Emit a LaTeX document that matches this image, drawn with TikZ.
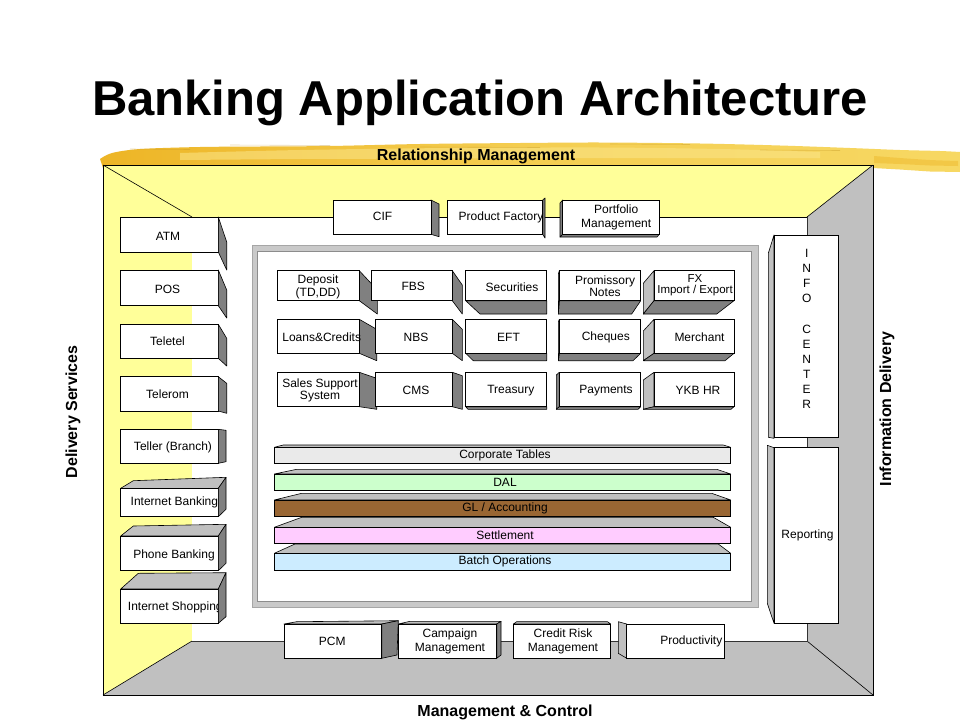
\documentclass[tikz,border=0pt]{standalone}
\usepackage{fontspec}
\setmainfont{Liberation Sans}
\definecolor{yellowp}{HTML}{FFFF99}
\definecolor{grayp}{HTML}{C0C0C0}
\definecolor{darkf}{HTML}{808080}
\definecolor{brushA}{HTML}{EDB526}
\definecolor{brushB}{HTML}{F7D863}
\definecolor{brushC}{HTML}{FBE68A}
\definecolor{corpc}{HTML}{EAEAEA}
\definecolor{dalc}{HTML}{CCFFCC}
\definecolor{glc}{HTML}{996633}
\definecolor{setc}{HTML}{FFCCFF}
\definecolor{batchc}{HTML}{CCECFF}
\newcommand\frontrect[4]{\draw[frontbox] (#1,#2) rectangle (#3,#4);}
\begin{document}
\begin{tikzpicture}[x=1pt,y=-1pt,
  frontbox/.style={draw=black, fill=white, line width=0.8pt},
  dface/.style={draw=black, fill=darkf, line width=0.6pt, line join=round},
  lface/.style={draw=black, fill=grayp, line width=0.6pt, line join=round},
  lbl/.style={font=\fontsize{12}{13.5}\selectfont, inner sep=0pt, align=center},
  hdr/.style={font=\fontsize{16}{18}\selectfont\bfseries, inner sep=0pt},
  barfront/.style={draw=black, line width=0.8pt}]
\useasboundingbox (0,0) rectangle (960,720);
\fill[white] (0,0) rectangle (960,720);

% title
\node[font=\fontsize{49}{55}\selectfont\bfseries, inner sep=0pt, anchor=base] (title) at (480,115) {Banking Application Architecture};

% brush stroke
\shade[left color=brushA, right color=brushB, middle color=brushB!70!brushA]
  plot[smooth] coordinates {(100,159) (112,153) (140,149) (200,147) (260,146.5)
   (330,146) (420,144) (520,143) (600,142.5) (700,143.5) (780,145.5) (850,148)
   (900,150) (940,151) (960,152)}
  -- (960,172) -- (930,171.5) -- (900,169.5) -- (873,168) -- (103,168) -- cycle;
\fill[brushC, opacity=0.55] plot[smooth] coordinates {(180,153) (300,150) (450,148) (600,147.5) (720,149) (820,152)}
  -- (820,158) -- (600,158) -- (300,159) -- (180,160) -- cycle;
\fill[brushA, opacity=0.45] plot[smooth] coordinates {(874,156) (900,158) (930,160) (958,161)}
  -- (958,166) -- (930,165.5) -- (900,164) -- (874,163) -- cycle;
\foreach \yy/\xa/\xb in {145/230/330, 147/420/540, 144/610/690, 150/760/840, 149/130/190}
  \draw[brushA!80!black, opacity=0.35, line width=0.6pt] (\xa,\yy) -- (\xb,\yy+0.5);

% frame
\fill[yellowp] (103,165) -- (873,165) -- (807,217) -- (192,217) -- cycle;
\fill[yellowp] (103,165) -- (192,217) -- (192,641) -- (103,695) -- cycle;
\fill[grayp] (873,165) -- (873,695) -- (807,641) -- (807,217) -- cycle;
\fill[grayp] (103,695) -- (192,641) -- (807,641) -- (873,695) -- cycle;
\fill[white] (192,217) rectangle (807,641);
\draw[line width=0.6pt] (103,165) -- (192,217) (873,165) -- (807,217)
  (103,695) -- (192,641) (873,695) -- (807,641);
\draw[line width=0.8pt] (192,217) -- (807,217);
\draw[line width=0.8pt, gray!40!black] (807,217) -- (807,641) -- (192,641);
\draw[line width=1pt] (103,165) rectangle (873,695);

% headers
\node[hdr, anchor=base] (rel) at (476,160.5) {Relationship Management};
\node[hdr, anchor=base] (mgc) at (505,716.5) {Management \& Control};
\node[hdr, rotate=90] (dels) at (73,412) {Delivery Services};
\node[hdr, rotate=90] (infd) at (887,409) {Information Delivery};

% inner panel
\fill[grayp!85] (252,245) rectangle (758,607);
\fill[white] (257,251) rectangle (751,601);
\draw[gray!70, line width=0.5pt] (252,245) rectangle (758,607);
\draw[gray!90, line width=0.5pt] (257,251) rectangle (751,601);

% left column
\frontrect{120.7}{217}{218.3}{252}
\node[lbl] (atm) at (168,236) {ATM};
\draw[dface] (218.3,217) -- (226.7,242) -- (226.7,270) -- (218.3,252) -- cycle;
\frontrect{120.7}{270}{218.3}{305.7}
\node[lbl] (pos) at (167.5,289) {POS};
\draw[dface] (218.3,270) -- (226.7,290) -- (226.7,318) -- (218.3,305.7) -- cycle;
\frontrect{120.7}{324.3}{218.3}{358.3}
\node[lbl] (teletel) at (167.5,341.5) {Teletel};
\draw[dface] (218.3,324.3) -- (226.7,338.3) -- (226.7,366) -- (218.3,358.3) -- cycle;
\frontrect{120.7}{376.7}{218.3}{411}
\node[lbl] (telerom) at (167.5,394) {Telerom};
\draw[dface] (218.3,376.7) -- (226.7,383.3) -- (226.7,413.3) -- (218.3,411) -- cycle;
\frontrect{120.7}{429.3}{218.3}{463.3}
\node[lbl] (teller) at (173,447.5) {Teller (Branch)};
\draw[dface] (218.3,429.3) -- (226,430.3) -- (226,461.7) -- (218.3,463.3) -- cycle;
\draw[lface] (120.7,488.3) -- (133.3,480.7) -- (226,477.3) -- (218.3,488.3) -- cycle;
\frontrect{120.7}{488.3}{218.3}{516.7}
\node[lbl] (ibank) at (174.4,502) {Internet Banking};
\draw[dface] (218.3,488.3) -- (226,477.3) -- (226,509.3) -- (218.3,516.7) -- cycle;
\draw[lface] (120.7,536) -- (133.3,526) -- (226,524.3) -- (218.3,536) -- cycle;
\frontrect{120.7}{536}{218.3}{570.7}
\node[lbl] (pbank) at (174,555) {Phone Banking};
\draw[dface] (218.3,536) -- (226,524.3) -- (226,563.3) -- (218.3,570.7) -- cycle;
\draw[lface] (120.7,589) -- (138.3,573.3) -- (226,572.7) -- (218.3,589) -- cycle;
\frontrect{120.7}{589}{218.3}{623.3}
\node[lbl] (ishop) at (175.3,607.5) {Internet Shopping};
\draw[dface] (218.3,589) -- (226,572.7) -- (226,616.7) -- (218.3,623.3) -- cycle;

% top row
\draw[dface] (431,200) -- (439,204) -- (439,236.7) -- (431,234.3) -- cycle;
\frontrect{333.3}{200}{431}{234.3}
\node[lbl] (cif) at (382.5,216.5) {CIF};
\draw[dface] (542.7,200) -- (545,198) -- (545,238) -- (542.7,234.3) -- cycle;
\frontrect{447.7}{200}{542.7}{234.3}
\node[lbl] (pfac) at (501,217) {Product Factory};
\draw[dface] (562.7,200) -- (560,203) -- (560,237) -- (562.7,234.3) -- cycle;
\draw[dface] (560,237) -- (562.7,234.3) -- (659.3,234.3) -- (657,237) -- cycle;
\frontrect{562.7}{200}{659.3}{234.3}
\node[lbl] (port) at (616.2,217.5) {Portfolio\\Management};

% grid row 1
\draw[dface] (359.3,270.7) -- (377.3,290) -- (377.3,314) -- (359.3,300.7) -- cycle;
\frontrect{277.3}{270.7}{359.3}{300.7}
\node[lbl, font=\fontsize{12}{13.3}\selectfont] (dep) at (318,287) {Deposit\\(TD,DD)};
\draw[dface] (452.3,270.7) -- (462.3,285) -- (462.3,314) -- (452.3,300.7) -- cycle;
\frontrect{371}{270.7}{452.3}{300.7}
\node[lbl] (fbs) at (413.3,286.5) {FBS};
\draw[dface] (465.7,300.7) -- (480,314) -- (546.7,314) -- (546.7,300.7) -- cycle;
\frontrect{465.7}{270.7}{546.7}{300.7}
\node[lbl] (sec) at (512,287.5) {Securities};
\draw[dface] (559.3,300.7) -- (558.3,314) -- (631.7,314) -- (640.7,300.7) -- cycle;
\draw[dface] (559.3,270.7) -- (558.3,274) -- (558.3,314) -- (559.3,300.7) -- cycle;
\frontrect{559.3}{270.7}{640.7}{300.7}
\node[lbl, font=\fontsize{12}{11.7}\selectfont] (prom) at (605,286.5) {Promissory\\Notes};
\draw[lface] (654,270.7) -- (643.3,283.3) -- (643.3,314) -- (654,300.7) -- cycle;
\draw[dface] (654,300.7) -- (643.3,314) -- (716.7,314) -- (734,300.7) -- cycle;
\frontrect{654}{270.7}{734}{300.7}
\node[lbl, font=\fontsize{11.5}{11.2}\selectfont] (fx) at (695,285) {FX\\Import / Export};

% grid row 2
\draw[dface] (359.3,319.3) -- (376.7,329.3) -- (376.7,360.7) -- (359.3,353.3) -- cycle;
\frontrect{277.3}{319.3}{359.3}{353.3}
\node[lbl] (loans) at (321.7,337) {Loans\&Credits};
\draw[dface] (452.3,319.3) -- (462.3,329.3) -- (462.3,360.7) -- (452.3,353.3) -- cycle;
\frontrect{375.3}{319.3}{452.3}{353.3}
\node[lbl] (nbs) at (416,337.5) {NBS};
\draw[dface] (465.7,353.3) -- (473.3,360.7) -- (546.7,360.7) -- (546.7,353.3) -- cycle;
\frontrect{465.7}{319.3}{546.7}{353.3}
\node[lbl] (eft) at (508.5,337.5) {EFT};
\draw[dface] (559.3,353.3) -- (558.3,360.7) -- (633,360.7) -- (640.7,353.3) -- cycle;
\draw[dface] (559.3,319.3) -- (558.3,322) -- (558.3,360.7) -- (559.3,353.3) -- cycle;
\frontrect{559.3}{319.3}{640.7}{353.3}
\node[lbl] (cheq) at (605.8,337.5) {Cheques};
\draw[lface] (654,319.3) -- (643.3,331) -- (643.3,360.7) -- (654,353.3) -- cycle;
\draw[dface] (654,353.3) -- (643.3,360.7) -- (725,360.7) -- (734,353.3) -- cycle;
\frontrect{654}{319.3}{734}{353.3}
\node[lbl] (merch) at (699.5,337.5) {Merchant};

% grid row 3
\draw[dface] (359.3,372.3) -- (376.7,378.3) -- (376.7,409.3) -- (359.3,406.7) -- cycle;
\frontrect{277.3}{372.3}{359.3}{406.7}
\node[lbl, font=\fontsize{12}{12.7}\selectfont] (sales) at (320,390.5) {Sales Support\\System};
\draw[dface] (452.3,372.3) -- (462.3,375.7) -- (462.3,409.3) -- (452.3,406.7) -- cycle;
\frontrect{375.3}{372.3}{452.3}{406.7}
\node[lbl] (cms) at (416,390.5) {CMS};
\draw[dface] (465.7,406.7) -- (468,409.3) -- (546.7,409.3) -- (546.7,406.7) -- cycle;
\frontrect{465.7}{372.3}{546.7}{406.7}
\node[lbl] (treas) at (510.8,390.5) {Treasury};
\draw[dface] (559.3,372.3) -- (556.3,375) -- (556.3,409.3) -- (559.3,406.7) -- cycle;
\draw[dface] (556.3,409.3) -- (559.3,406.7) -- (640.7,406.7) -- (638,409.3) -- cycle;
\frontrect{559.3}{372.3}{640.7}{406.7}
\node[lbl] (pay) at (606,390.5) {Payments};
\draw[lface] (654,372.3) -- (643.3,380) -- (643.3,409.3) -- (654,406.7) -- cycle;
\draw[dface] (643.3,409.3) -- (654,406.7) -- (734,406.7) -- (731,409.3) -- cycle;
\frontrect{654}{372.3}{734}{406.7}
\node[lbl] (ykb) at (698,390.5) {YKB HR};

% layer bars
\draw[lface] (274.3,447.3) -- (283.3,445) -- (723.3,445) -- (730.7,447.3) -- cycle;
\draw[barfront, fill=corpc] (274.3,447.3) rectangle (730.7,463.3);
\node[lbl] (corp) at (505,455.5) {Corporate Tables};
\draw[lface] (274.3,474) -- (296.7,469.3) -- (716.7,469.3) -- (730.7,474) -- cycle;
\draw[barfront, fill=dalc] (274.3,474) rectangle (730.7,490.7);
\node[lbl] (dal) at (505,482.3) {DAL};
\draw[lface] (274.3,500) -- (301.7,493.3) -- (711.7,493.3) -- (730.7,500) -- cycle;
\draw[barfront, fill=glc] (274.3,500) rectangle (730.7,516);
\node[lbl] (gl) at (505,508.5) {GL / Accounting};
\draw[lface] (274.3,527.3) -- (301.7,517.3) -- (713.3,517.3) -- (730.7,527.3) -- cycle;
\draw[barfront, fill=setc] (274.3,527.3) rectangle (730.7,543.3);
\node[lbl] (sett) at (505,535) {Settlement};
\draw[lface] (274.3,553.3) -- (295,544) -- (718.3,544) -- (730.7,553.3) -- cycle;
\draw[barfront, fill=batchc] (274.3,553.3) rectangle (730.7,570);
\node[lbl] (batch) at (505,561.5) {Batch Operations};

% right column
\draw[lface] (774,235) -- (768.3,253.3) -- (768.3,437.3) -- (774,438.3) -- cycle;
\frontrect{774}{235}{838.3}{437.3}
\node[lbl, font=\fontsize{12}{15.07}\selectfont] (info) at (806.7,329) {I\\N\\F\\O\\[15.07pt]C\\E\\N\\T\\E\\R};
\draw[lface] (774,447.7) -- (767.3,445.3) -- (767.3,603.3) -- (774,623.3) -- cycle;
\frontrect{774}{447.7}{838.3}{623.3}
\node[lbl] (rep) at (807.5,535) {Reporting};

% bottom row
\draw[lface] (284,624) -- (296.7,621.7) -- (398.3,620.7) -- (381.7,624) -- cycle;
\draw[dface] (381.7,624) -- (398.3,620.7) -- (397,655) -- (381.7,658.3) -- cycle;
\frontrect{284}{624}{381.7}{658.3}
\node[lbl] (pcm) at (332.3,641) {PCM};
\draw[lface] (398.3,624) -- (410,621.3) -- (501,621.3) -- (496.7,624) -- cycle;
\draw[dface] (496.7,624) -- (501,621.3) -- (501,655) -- (496.7,658.3) -- cycle;
\frontrect{398.3}{624}{496.7}{658.3}
\node[lbl] (camp) at (450,641.2) {Campaign\\Management};
\draw[lface] (513.3,624) -- (516.7,621.7) -- (607.5,621.7) -- (610.7,624) -- cycle;
\frontrect{513.3}{624}{610.7}{658.3}
\node[lbl] (crm) at (563,641.2) {Credit Risk\\Management};
\draw[lface] (626.7,624) -- (618.3,621.7) -- (618.3,653.3) -- (626.7,658.3) -- cycle;
\frontrect{626.7}{624}{724}{658.3}
\node[lbl] (prod) at (691.3,641.5) {Productivity};
\end{tikzpicture}
\end{document}
